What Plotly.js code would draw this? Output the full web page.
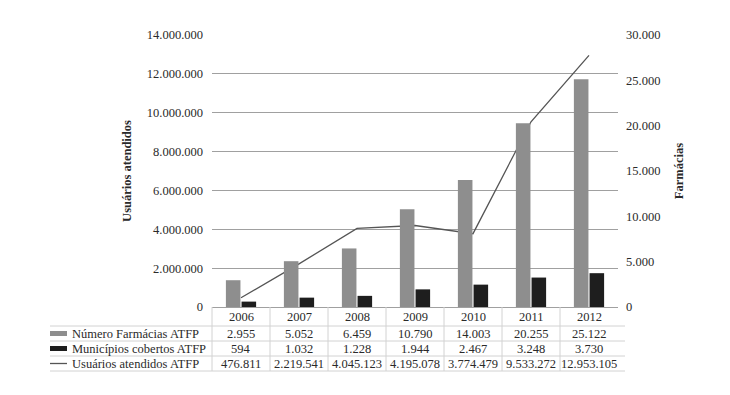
<!DOCTYPE html>
<html>
<head>
<meta charset="utf-8">
<script src="https://cdn.plot.ly/plotly-3.0.1.min.js"></script>
<style>html,body{margin:0;padding:0;background:#fff;}#chart{width:730px;height:395px;}</style>
</head>
<body>
<div id="chart"></div>
<script>
const years = ['2006', '2007', '2008', '2009', '2010', '2011', '2012'];
const farmacias = [2955, 5052, 6459, 10790, 14003, 20255, 25122];
const municipios = [594, 1032, 1228, 1944, 2467, 3248, 3730];
const usuarios = [476811, 2219541, 4045123, 4195078, 3774479, 9533272, 12953105];
const seriesNames = ['Número Farmácias ATFP', 'Municípios cobertos ATFP', 'Usuários atendidos ATFP'];
const leftTitle = 'Usuários atendidos';
const rightTitle = 'Farmácias';

const W = 730, H = 395;
const M = {l: 212, r: 112, t: 35, b: 88};
const plotW = W - M.l - M.r, plotH = H - M.t - M.b;
const py = p => (H - M.b - p) / plotH;      // pixel y -> paper y
const pxp = p => (p - M.l) / plotW;         // pixel x -> paper x
const catX = i => (i + 0.5) / years.length; // category centre -> paper x
const fmt = n => String(n).replace(/\B(?=(\d{3})+(?!\d))/g, '.');

const FONT = "'Liberation Serif', 'Times New Roman', serif";
const GRAY = '#8e8e8e', BLACK = '#1e1e1e', LINE = '#555555', TXT = '#2a2a2a';

const traces = [
  {type: 'bar', x: years, y: farmacias, yaxis: 'y2', name: seriesNames[0],
   marker: {color: GRAY}, showlegend: false, hoverinfo: 'skip'},
  {type: 'bar', x: years, y: municipios, yaxis: 'y2', name: seriesNames[1],
   marker: {color: BLACK}, showlegend: false, hoverinfo: 'skip'},
  {type: 'scatter', mode: 'lines', x: years, y: usuarios, yaxis: 'y', name: seriesNames[2],
   line: {color: LINE, width: 1.3}, showlegend: false, hoverinfo: 'skip'}
];

// table rows (pixel centres) and separators
const rowY = [317, 333.5, 348.5, 363.5];
const sepY = [326, 341, 356, 371];
const rows = [farmacias, municipios, usuarios];

const annotations = [];
const shapes = [];
const tfont = {family: FONT, size: 12.5, color: TXT};
years.forEach((yr, i) => {
  annotations.push({xref: 'paper', yref: 'paper', x: catX(i), y: py(rowY[0]), text: yr,
    showarrow: false, xanchor: 'center', yanchor: 'middle', font: tfont});
  rows.forEach((arr, r) => {
    annotations.push({xref: 'paper', yref: 'paper', x: catX(i), y: py(rowY[r + 1]), text: fmt(arr[i]),
      showarrow: false, xanchor: 'center', yanchor: 'middle', font: tfont});
  });
});
seriesNames.forEach((nm, r) => {
  annotations.push({xref: 'paper', yref: 'paper', x: pxp(70), y: py(rowY[r + 1]), text: nm,
    showarrow: false, xanchor: 'left', yanchor: 'middle', font: tfont});
});
// legend keys
shapes.push({type: 'rect', xref: 'paper', yref: 'paper', x0: pxp(50), x1: pxp(67),
  y0: py(rowY[1] + 2.5), y1: py(rowY[1] - 2.5), fillcolor: GRAY, line: {width: 0}});
shapes.push({type: 'rect', xref: 'paper', yref: 'paper', x0: pxp(50), x1: pxp(67),
  y0: py(rowY[2] + 2.5), y1: py(rowY[2] - 2.5), fillcolor: BLACK, line: {width: 0}});
shapes.push({type: 'line', xref: 'paper', yref: 'paper', x0: pxp(50), x1: pxp(67),
  y0: py(rowY[3]), y1: py(rowY[3]), line: {color: LINE, width: 1.3}});
// table grid
sepY.forEach(s => {
  shapes.push({type: 'line', xref: 'paper', yref: 'paper', x0: pxp(50), x1: pxp(625),
    y0: py(s), y1: py(s), line: {color: '#d2d2d2', width: 1}});
});
for (let i = 0; i < years.length; i++) {
  shapes.push({type: 'line', xref: 'paper', yref: 'paper', x0: i / years.length, x1: i / years.length,
    y0: py(H - M.b), y1: py(sepY[3]), line: {color: '#d2d2d2', width: 1}});
}

const layout = {
  width: W, height: H,
  margin: M,
  paper_bgcolor: '#fff', plot_bgcolor: '#fff',
  separators: ',.',
  font: {family: FONT, size: 12, color: TXT},
  barmode: 'group', bargap: 0.46, bargroupgap: 0.07,
  xaxis: {type: 'category', range: [-0.5, 6.5], showticklabels: false, ticks: '',
    showgrid: false, zeroline: false, showline: false, fixedrange: true},
  yaxis: {range: [0, 14000000], dtick: 2000000, tickformat: ',d', showgrid: true,
    gridcolor: '#a0a0a0', gridwidth: 1, zeroline: true, zerolinecolor: '#a0a0a0', zerolinewidth: 1,
    showline: false, ticks: '', ticklabelstandoff: 8,
    tickfont: {family: FONT, size: 12.5, color: TXT},
    title: {text: '<b>' + leftTitle + '</b>', standoff: 12, font: {family: FONT, size: 12.5, color: TXT}}},
  yaxis2: {range: [0, 30000], dtick: 5000, tickformat: ',d', overlaying: 'y', side: 'right',
    showgrid: false, zeroline: false, showline: false, ticks: '', ticklabelstandoff: 7,
    tickfont: {family: FONT, size: 12.5, color: TXT},
    title: {text: '<b>' + rightTitle + '</b>', standoff: 14, font: {family: FONT, size: 12.5, color: TXT}}},
  annotations: annotations,
  shapes: shapes
};

Plotly.newPlot('chart', traces, layout, {staticPlot: true, displayModeBar: false});
</script>
</body>
</html>
